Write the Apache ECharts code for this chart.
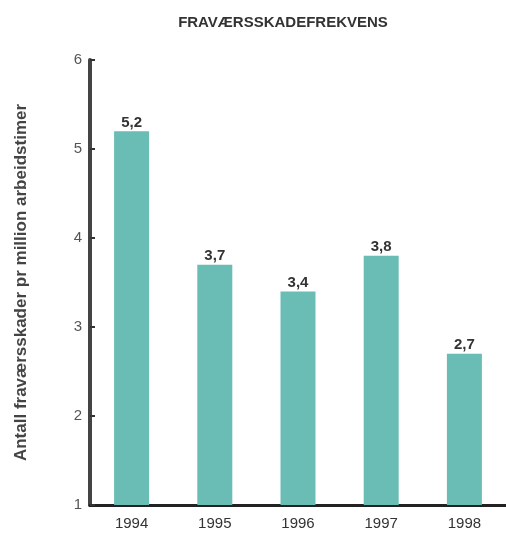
<!DOCTYPE html>
<html><head><meta charset="utf-8">
<script src="https://cdn.jsdelivr.net/npm/echarts@6/dist/echarts.min.js"></script>
<style>html,body{margin:0;padding:0;background:#fff}#c{width:506px;height:538px}</style>
</head><body><div id="c"></div>
<script>
const categories = ['1994','1995','1996','1997','1998'];
const values = [5.2, 3.7, 3.4, 3.8, 2.7];
const yTicks = [1,2,3,4,5,6];
const titleText = 'FRAVÆRSSKADEFREKVENS';
const yName = 'Antall fraværsskader pr million arbeidstimer';

const chart = echarts.init(document.getElementById('c'), null, {renderer:'canvas'});
chart.setOption({
  animation:false,
  title:{text:titleText,left:278,top:10,textAlign:'center',
    textStyle:{fontFamily:'Liberation Sans',fontSize:15,fontWeight:'bold',color:'#333'}},
  grid:{left:90,right:0,top:60,bottom:33},
  xAxis:{type:'category',data:categories,
    axisLine:{lineStyle:{color:'#222',width:3}},
    axisTick:{show:false},
    axisLabel:{fontFamily:'Liberation Sans',fontSize:15,color:'#333',margin:11}},
  yAxis:{type:'value',min:1,max:6,interval:1,
    name:yName,nameLocation:'middle',nameGap:60,nameRotate:90,
    nameTextStyle:{fontFamily:'Liberation Sans',fontSize:17,fontWeight:'bold',color:'#444'},
    axisLine:{show:true,lineStyle:{color:'#444',width:4}},
    axisTick:{show:true,inside:true,length:5,lineStyle:{color:'#333',width:2}},
    axisLabel:{fontFamily:'Liberation Sans',fontSize:15,color:'#555',margin:8,
      formatter:v=>yTicks.includes(v)?String(v):''},
    splitLine:{show:false}},
  series:[{type:'bar',data:values,barWidth:35,
    itemStyle:{color:'#69bdb4'},
    label:{show:true,position:'top',distance:1,fontFamily:'Liberation Sans',fontSize:15,fontWeight:'bold',color:'#333',
      formatter:p=>String(p.value).replace('.',',')}}]
});
</script></body></html>
